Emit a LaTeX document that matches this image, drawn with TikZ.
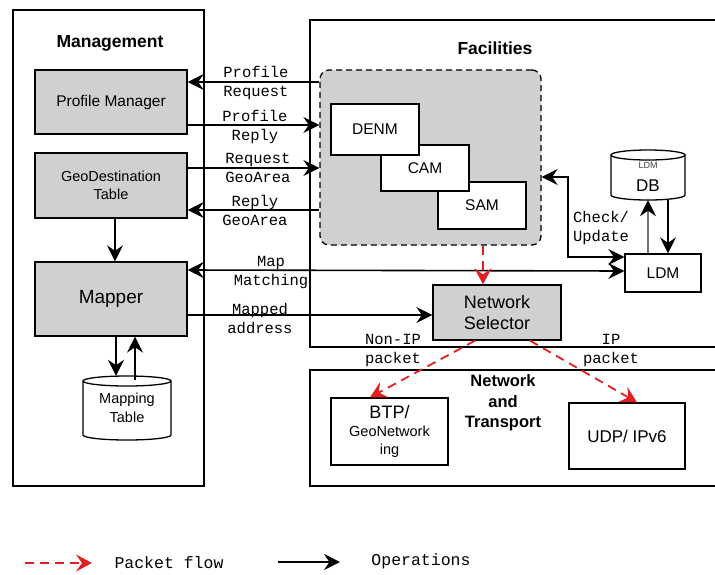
\documentclass[tikz,border=0pt]{standalone}
\usepackage{fontspec}
\setmainfont{Liberation Sans}
\newfontfamily\monof{Liberation Mono}
\usetikzlibrary{arrows.meta}
\definecolor{boxgray}{HTML}{D0D0D0}
\definecolor{pfred}{HTML}{E02020}
\begin{document}
\begin{tikzpicture}[x=1pt,y=-1pt,
  frame/.style={draw, line width=1.3pt},
  box/.style={draw, line width=1.3pt, align=center, inner sep=1pt, font=\fontsize{15.5}{18}\selectfont},
  gbox/.style={box, fill=boxgray},
  wbox/.style={box, fill=white},
  ttl/.style={font=\bfseries\fontsize{17.5}{20}\selectfont, align=center, inner sep=0pt},
  lab/.style={font=\monof\fontsize{15.5}{19}\selectfont, align=center, inner sep=0pt},
  op/.style={line width=1.6pt, -{Stealth[length=16pt,width=16pt,inset=5.5pt]}},
  opb/.style={line width=1.6pt, {Stealth[length=16pt,width=16pt,inset=5.5pt]}-{Stealth[length=16pt,width=16pt,inset=5.5pt]}},
  pf/.style={pfred, line width=1.8pt, dash pattern=on 9pt off 6pt, -{Stealth[length=16pt,width=17pt,inset=6pt,sep=0pt]}}
]
\useasboundingbox (0,0) rectangle (715,574);

% Management
\draw[frame] (13,10) rectangle (204,486);
\node[ttl] (mgmtt) at (110,43) {Management};
\node[gbox, minimum width=152, minimum height=64] (pm) at (111,102) {Profile Manager};
\node[gbox, minimum width=152, minimum height=65, font=\fontsize{14.5}{18}\selectfont] (gdt) at (111,185.5) {GeoDestination\\Table};
\node[gbox, minimum width=152, minimum height=74, font=\fontsize{19}{22}\selectfont] (mapper) at (111,299) {Mapper};
% mapping table cylinder
\draw[line width=1.3pt, fill=white] (83,381) -- (83,435) arc[start angle=180, end angle=0, x radius=44, y radius=5] -- (171,381);
\draw[line width=1.3pt] (127,381) ellipse[x radius=44, y radius=5];
\node[align=center, inner sep=0pt, minimum width=88, minimum height=64, font=\fontsize{14.5}{19}\selectfont] (mt) at (127,408) {Mapping\\Table};

% Facilities
\draw[frame] (720,20) -- (310,20) -- (310,347) -- (720,347);
\node[ttl] (fact) at (495,48) {Facilities};
\node[draw, line width=1.3pt, dash pattern=on 6pt off 4pt, rounded corners=9pt, fill=boxgray, minimum width=221, minimum height=175, inner sep=0pt] (dbox) at (430.5,157.5) {};
\node[wbox, minimum width=88, minimum height=47] (sam) at (482,205.5) {SAM};
\node[wbox, minimum width=88, minimum height=46] (cam) at (425,168) {CAM};
\node[wbox, minimum width=88, minimum height=51] (denm) at (375,129.5) {DENM};
\node[gbox, minimum width=128, minimum height=55, font=\fontsize{18}{21}\selectfont] (ns) at (497,312.5) {Network\\Selector};
% LDM DB cylinder
\draw[line width=1.3pt, fill=white] (611,155) -- (611,195) arc[start angle=180, end angle=0, x radius=37, y radius=5] -- (685,155);
\draw[line width=1.3pt] (648,155) ellipse[x radius=37, y radius=5];
\node[align=center, inner sep=0pt, minimum width=74, minimum height=50] (db) at (648,175) {};
\node[inner sep=0pt, font=\fontsize{9}{10}\selectfont, text=black!75] (dbl) at (648,165) {LDM};
\node[inner sep=0pt, font=\fontsize{17}{20}\selectfont] (dbl2) at (648,186) {DB};
\node[wbox, minimum width=76, minimum height=38] (ldm) at (663,273) {LDM};

% Network and Transport
\draw[frame] (720,370) -- (310,370) -- (310,486) -- (720,486);
\node[ttl, font=\bfseries\fontsize{16.5}{20.5}\selectfont] (ntt) at (503,403) {Network\\and\\Transport};
\node[wbox, minimum width=117, minimum height=67, font=\fontsize{14.5}{18}\selectfont] (btp) at (389.5,431.5) {{\fontsize{18}{20}\selectfont BTP/}\\GeoNetwork\\ing};
\node[wbox, minimum width=116, minimum height=66, font=\fontsize{17}{20}\selectfont] (udp) at (627,436) {UDP/ IPv6};

% operations
\draw[op] (dbox.west |- 0,82) -- (pm.east |- 0,82);
\draw[op] (pm.east |- 0,125) -- (dbox.west |- 0,125);
\draw[op] (gdt.east |- 0,168) -- (dbox.west |- 0,168);
\draw[op] (dbox.west |- 0,210) -- (gdt.east |- 0,210);
\draw[op] (gdt.south -| 115,0) -- (mapper.north -| 115,0);
\draw[op] (mapper.south -| 116,0) -- (mt.north -| 116,0);
\draw[op] ([yshift=-4pt]mt.north -| 135,0) -- (mapper.south -| 135,0);
\draw[opb] (mapper.east |- 0,270) -- (ldm.west |- 0,271);
\draw[op] (mapper.east |- 0,315) -- (ns.west |- 0,315);
\draw[opb, line width=2pt] (dbox.east |- 0,177) -- (568,177) -- (568,257) -- (ldm.west |- 0,257);
\draw[line width=1.6pt, draw=black!55, -{Stealth[length=16pt,width=16pt,inset=5.5pt,fill=black,color=black]}] (ldm.north -| 648,0) -- (db.south -| 648,0);
\draw[op] (db.south -| 668,0) -- (ldm.north -| 668,0);

% packet flow
\draw[pf] (dbox.south -| 483,0) -- (ns.north -| 483,0);
\draw[pf] (ns.south -| 475,0) -- (btp.north -| 370,0);
\draw[pf] (ns.south -| 530,0) -- (udp.north -| 637,0);

% labels
\node[lab] (l1) at (256,82.5) {Profile\\Request};
\node[lab] (l2) at (255,126.5) {Profile\\Reply};
\node[lab] (l3) at (258,167.5) {Request\\GeoArea};
\node[lab] (l4) at (255,210.5) {Reply\\GeoArea};
\node[lab] (l5) at (271,272) {Map\\Matching};
\node[lab] (l6) at (260,318.5) {Mapped\\address};
\node[lab, align=left] (l7) at (601,227.5) {Check/\\Update};
\node[lab] (l8) at (393,350) {Non-IP\\packet};
\node[lab] (l9) at (611,350.5) {IP\\packet};

% legend
\coordinate (lg1) at (25,563);
\coordinate (lg2) at (92,563);
\coordinate (lg3) at (278,562);
\coordinate (lg4) at (340,562);
\draw[pf] (lg1) -- (lg2);
\draw[op] (lg3) -- (lg4);
\node[lab, font=\monof\fontsize{16.5}{19}\selectfont] (lg5) at (169,563) {Packet flow};
\node[lab, font=\monof\fontsize{16.5}{19}\selectfont] (lg6) at (421,561) {Operations};
\end{tikzpicture}
\end{document}
